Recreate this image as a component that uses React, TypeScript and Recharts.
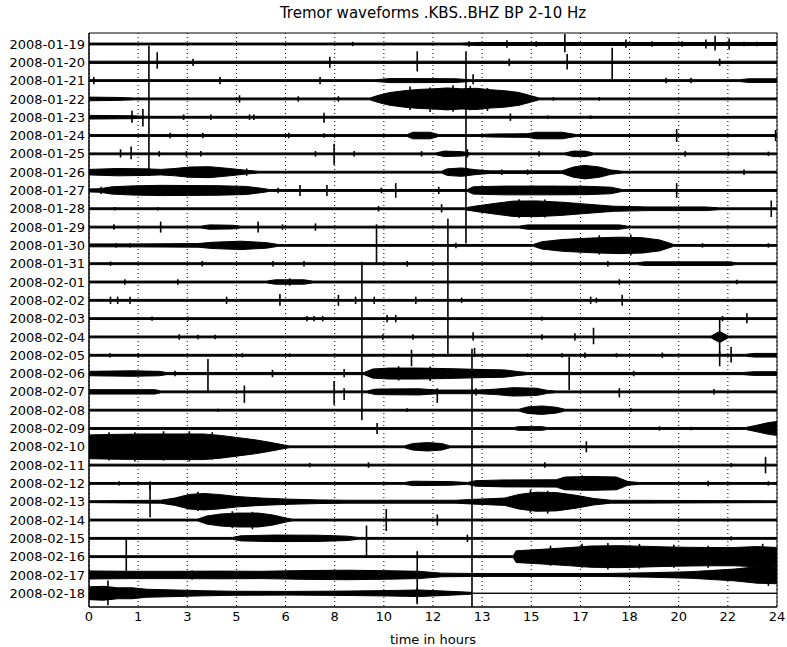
import { ComposedChart, Area, XAxis, YAxis, CartesianGrid, ReferenceLine, ReferenceArea, Label } from "recharts";

// one trace per day, top to bottom
const days = [
  "2008-01-19", "2008-01-20", "2008-01-21", "2008-01-22", "2008-01-23", "2008-01-24",
  "2008-01-25", "2008-01-26", "2008-01-27", "2008-01-28", "2008-01-29", "2008-01-30",
  "2008-01-31", "2008-02-01", "2008-02-02", "2008-02-03", "2008-02-04", "2008-02-05",
  "2008-02-06", "2008-02-07", "2008-02-08", "2008-02-09", "2008-02-10", "2008-02-11",
  "2008-02-12", "2008-02-13", "2008-02-14", "2008-02-15", "2008-02-16", "2008-02-17",
  "2008-02-18",
];

// hour ticks (15 evenly spaced) and their printed labels
const hourTicks = [0, 1.714, 3.429, 5.143, 6.857, 8.571, 10.286, 12, 13.714, 15.429, 17.143, 18.857, 20.571, 22.286, 24];
const hourLabels = ["0", "1", "3", "5", "6", "8", "10", "12", "13", "15", "17", "18", "20", "22", "24"];

// envelope of each trace: [hour, half amplitude] in units of trace spacing
const envelopes: [number, number][][] = [
  // 01-19
  [[0, 0.05], [13, 0.05], [13.5, 0.08], [24, 0.08]],
  // 01-20
  [[0, 0.06], [24, 0.06]],
  // 01-21
  [[0, 0.05], [10.0, 0.05], [10.5, 0.11], [11.5, 0.11], [12.8, 0.1], [13.3, 0.05], [22.7, 0.05], [23.0, 0.1], [24, 0.1]],
  // 01-22
  [[0, 0.1], [1.0, 0.08], [1.6, 0.05], [9.8, 0.05], [10.1, 0.2], [10.5, 0.35], [11.0, 0.45], [11.5, 0.52], [12.0, 0.55], [12.5, 0.6], [13.0, 0.55], [13.5, 0.58], [14.0, 0.5], [14.5, 0.45], [15.0, 0.35], [15.4, 0.18], [15.7, 0.05], [24, 0.05]],
  // 01-23
  [[0, 0.1], [1.5, 0.08], [2.0, 0.05], [24, 0.05]],
  // 01-24
  [[0, 0.05], [11.1, 0.05], [11.3, 0.18], [11.9, 0.18], [12.2, 0.05], [13.6, 0.05], [14.0, 0.08], [15.3, 0.1], [15.6, 0.18], [16.5, 0.18], [17.0, 0.05], [24, 0.05]],
  // 01-25
  [[0, 0.05], [12.1, 0.05], [12.4, 0.15], [13.0, 0.12], [13.3, 0.05], [16.6, 0.05], [16.9, 0.15], [17.3, 0.15], [17.6, 0.05], [24, 0.05]],
  // 01-26
  [[0, 0.15], [1.0, 0.2], [2.0, 0.18], [2.5, 0.15], [3.0, 0.2], [3.5, 0.28], [4.2, 0.3], [4.9, 0.2], [5.5, 0.1], [5.9, 0.05], [12.3, 0.05], [12.5, 0.18], [13.0, 0.23], [13.5, 0.13], [14.0, 0.07], [16.5, 0.07], [16.9, 0.28], [17.3, 0.37], [17.8, 0.28], [18.2, 0.12], [18.6, 0.05], [24, 0.05]],
  // 01-27
  [[0, 0.08], [0.4, 0.1], [0.8, 0.2], [1.5, 0.25], [2.5, 0.28], [3.5, 0.27], [4.5, 0.26], [5.5, 0.22], [6.0, 0.12], [6.3, 0.05], [13.2, 0.05], [13.4, 0.2], [14.5, 0.24], [16.0, 0.24], [17.3, 0.23], [18.2, 0.18], [18.6, 0.05], [24, 0.05]],
  // 01-28
  [[0, 0.05], [13.1, 0.05], [13.5, 0.15], [14.2, 0.3], [14.8, 0.42], [15.6, 0.43], [16.5, 0.36], [17.3, 0.26], [18.3, 0.14], [19.5, 0.1], [21.5, 0.1], [22.0, 0.05], [24, 0.05]],
  // 01-29
  [[0, 0.05], [3.9, 0.05], [4.2, 0.12], [5.0, 0.1], [5.3, 0.05], [15.0, 0.05], [15.3, 0.12], [18.5, 0.12], [18.8, 0.05], [24, 0.05]],
  // 01-30
  [[0, 0.08], [1.5, 0.08], [3.8, 0.1], [4.3, 0.17], [5.3, 0.23], [6.2, 0.15], [6.6, 0.05], [15.5, 0.05], [15.8, 0.2], [16.5, 0.32], [17.5, 0.4], [18.5, 0.45], [19.3, 0.42], [19.9, 0.3], [20.4, 0.05], [24, 0.05]],
  // 01-31
  [[0, 0.05], [19.1, 0.05], [19.4, 0.1], [22.3, 0.1], [22.6, 0.05], [24, 0.05]],
  // 02-01
  [[0, 0.05], [6.2, 0.05], [6.5, 0.12], [7.5, 0.12], [7.8, 0.05], [24, 0.05]],
  // 02-02
  [[0, 0.05], [24, 0.05]],
  // 02-03
  [[0, 0.05], [24, 0.05]],
  // 02-04
  [[0, 0.05], [21.7, 0.05], [22.0, 0.3], [22.3, 0.05], [24, 0.05]],
  // 02-05
  [[0, 0.05], [22.9, 0.05], [23.2, 0.1], [24, 0.1]],
  // 02-06
  [[0, 0.12], [1.5, 0.15], [2.45, 0.12], [2.7, 0.06], [9.6, 0.06], [9.9, 0.25], [10.5, 0.3], [11.5, 0.3], [12.5, 0.27], [13.5, 0.23], [14.5, 0.2], [15.0, 0.1], [15.3, 0.06], [22.8, 0.06], [23.2, 0.1], [24, 0.1]],
  // 02-07
  [[0, 0.12], [2.3, 0.12], [2.5, 0.05], [9.7, 0.05], [10.0, 0.15], [11.5, 0.17], [12.2, 0.1], [13.6, 0.1], [14.2, 0.15], [14.8, 0.23], [15.6, 0.2], [16.0, 0.08], [16.3, 0.05], [24, 0.05]],
  // 02-08
  [[0, 0.05], [15.0, 0.05], [15.3, 0.18], [15.8, 0.23], [16.3, 0.16], [16.6, 0.05], [24, 0.05]],
  // 02-09
  [[0, 0.05], [14.8, 0.05], [15.0, 0.1], [15.8, 0.1], [16.0, 0.05], [22.9, 0.05], [23.3, 0.18], [23.7, 0.32], [24, 0.38]],
  // 02-10
  [[0, 0.65], [1.0, 0.68], [2.0, 0.7], [3.0, 0.7], [4.0, 0.7], [4.6, 0.62], [5.2, 0.5], [5.8, 0.38], [6.3, 0.25], [6.8, 0.1], [7.0, 0.05], [11.0, 0.05], [11.3, 0.18], [11.8, 0.23], [12.3, 0.18], [12.6, 0.05], [24, 0.05]],
  // 02-11
  [[0, 0.05], [24, 0.05]],
  // 02-12
  [[0, 0.05], [11.0, 0.05], [11.3, 0.12], [12.6, 0.1], [13.2, 0.05], [13.5, 0.15], [14.5, 0.19], [16.3, 0.2], [16.6, 0.35], [17.5, 0.38], [18.4, 0.35], [18.8, 0.1], [19.2, 0.05], [24, 0.05]],
  // 02-13
  [[0, 0.05], [2.5, 0.08], [3.0, 0.2], [3.5, 0.4], [4.0, 0.45], [4.5, 0.4], [5.2, 0.28], [6.0, 0.2], [7.0, 0.14], [8.0, 0.1], [9.0, 0.08], [12.8, 0.08], [13.3, 0.12], [14.5, 0.2], [15.0, 0.4], [15.6, 0.52], [16.3, 0.5], [17.0, 0.35], [17.6, 0.18], [18.2, 0.08], [24, 0.05]],
  // 02-14
  [[0, 0.05], [3.8, 0.05], [4.1, 0.22], [4.6, 0.33], [5.2, 0.38], [5.9, 0.38], [6.4, 0.28], [6.9, 0.1], [7.1, 0.05], [24, 0.05]],
  // 02-15
  [[0, 0.05], [5.0, 0.05], [5.3, 0.14], [6.5, 0.18], [8.0, 0.17], [9.0, 0.12], [9.4, 0.05], [24, 0.05]],
  // 02-16
  [[0, 0.05], [14.8, 0.05], [14.9, 0.32], [15.8, 0.4], [16.8, 0.5], [17.5, 0.58], [18.5, 0.6], [19.5, 0.56], [20.5, 0.52], [21.5, 0.5], [22.5, 0.5], [23.3, 0.55], [24, 0.5]],
  // 02-17
  [[0, 0.22], [1.5, 0.2], [3.0, 0.2], [4.5, 0.21], [6.0, 0.2], [7.5, 0.24], [9.0, 0.26], [10.5, 0.23], [11.5, 0.2], [12.3, 0.1], [13.4, 0.08], [18.0, 0.08], [19.5, 0.12], [21.0, 0.18], [22.5, 0.32], [23.3, 0.45], [24, 0.48]],
  // 02-18, record stops at the 13.36 h event
  [[0, 0.35], [0.5, 0.38], [1.0, 0.3], [1.5, 0.3], [2.0, 0.22], [3.0, 0.18], [4.0, 0.14], [5.0, 0.11], [7.0, 0.1], [9.0, 0.12], [10.5, 0.15], [11.5, 0.18], [12.4, 0.12], [13.36, 0.05], [13.37, 0], [24, 0]],
];

// isolated spikes on each trace: [hour, extent up, extent down]
const spikes: [number, number, number][][] = [
  [[9.2, 0.12, 0.12], [13.26, 0.15, 0.15], [14.58, 0.2, 0.2], [15.6, 0.15, 0.15], [16.6, 0.55, 0.45], [18.73, 0.25, 0.2], [19.64, 0.15, 0.15], [20.69, 0.15, 0.15], [21.52, 0.25, 0.25], [21.84, 0.45, 0.35], [22.33, 0.3, 0.3], [22.85, 0.12, 0.12], [23.3, 0.12, 0.12]],
  [[2.09, 0.9, 6.2], [2.38, 0.55, 0.35], [3.63, 0.2, 0.2], [8.4, 0.3, 0.3], [11.45, 0.6, 0.5], [13.15, 0.6, 9.9], [14.66, 0.2, 0.2], [16.68, 0.45, 0.4], [18.25, 0.8, 1.0], [22.0, 0.2, 0.2]],
  [[0.17, 0.2, 0.2], [4.57, 0.2, 0.2], [8.06, 0.2, 0.2], [13.4, 0.35, 0.2], [20.13, 0.15, 0.15], [21.0, 0.15, 0.15]],
  [[5.25, 0.2, 0.2], [7.3, 0.15, 0.15], [8.7, 0.15, 0.15], [11.2, 0.68, 0.6], [11.9, 0.62, 0.72], [12.7, 0.75, 0.7], [13.3, 0.7, 0.62], [13.9, 0.6, 0.66], [16.2, 0.1, 0.1], [17.8, 0.1, 0.1]],
  [[1.5, 0.35, 0.3], [1.88, 0.45, 0.5], [3.3, 0.15, 0.15], [4.25, 0.15, 0.15], [5.6, 0.15, 0.15], [5.75, 0.15, 0.15], [8.2, 0.25, 0.3], [14.7, 0.2, 0.2], [16.0, 0.1, 0.1], [17.5, 0.1, 0.1]],
  [[2.83, 0.15, 0.15], [3.97, 0.15, 0.15], [6.97, 0.15, 0.15], [8.2, 0.12, 0.12], [20.5, 0.35, 0.35], [23.95, 0.3, 0.3]],
  [[1.1, 0.25, 0.2], [1.47, 0.4, 0.3], [2.45, 0.15, 0.15], [3.4, 0.15, 0.15], [3.9, 0.15, 0.15], [7.9, 0.15, 0.15], [8.55, 0.55, 0.6], [9.25, 0.15, 0.15], [11.6, 0.15, 0.15], [13.2, 0.25, 0.2], [15.7, 0.15, 0.15], [20.8, 0.15, 0.15], [22.3, 0.12, 0.12], [23.7, 0.12, 0.12]],
  [[5.5, 0.2, 0.2], [14.4, 0.15, 0.15], [15.3, 0.15, 0.15], [22.85, 0.15, 0.15]],
  [[0.42, 0.2, 0.2], [6.6, 0.15, 0.15], [7.36, 0.3, 0.3], [8.3, 0.3, 0.3], [10.2, 0.15, 0.15], [10.7, 0.4, 0.4], [12.2, 0.2, 0.2], [20.5, 0.4, 0.4]],
  [[0.9, 0.1, 0.1], [2.4, 0.1, 0.1], [10.1, 0.15, 0.15], [12.3, 0.25, 0.2], [15.0, 0.52, 0.5], [15.9, 0.5, 0.48], [23.8, 0.45, 0.45]],
  [[0.87, 0.15, 0.15], [2.5, 0.3, 0.3], [5.9, 0.3, 0.3], [6.75, 0.15, 0.15], [7.9, 0.2, 0.2], [10.03, 0.15, 2.0], [12.52, 0.45, 7.0]],
  [[0.95, 0.12, 0.12], [1.43, 0.12, 0.12], [12.8, 0.15, 0.15], [17.8, 0.55, 0.5], [18.9, 0.6, 0.55], [21.4, 0.12, 0.12], [23.7, 0.12, 0.12]],
  [[0.75, 0.12, 0.12], [3.95, 0.15, 0.15], [6.42, 0.15, 0.15], [7.5, 0.15, 0.15], [9.52, 0.1, 8.55], [11.1, 0.15, 0.15], [18.1, 0.15, 0.15], [22.4, 0.12, 0.12]],
  [[1.25, 0.15, 0.15], [3.1, 0.15, 0.15], [7.0, 0.2, 0.2], [18.5, 0.15, 0.15], [22.6, 0.12, 0.12]],
  [[0.75, 0.2, 0.2], [1.0, 0.2, 0.2], [1.43, 0.2, 0.2], [4.8, 0.2, 0.2], [6.66, 0.35, 0.3], [8.7, 0.3, 0.3], [9.3, 0.2, 0.2], [9.95, 0.2, 0.2], [11.4, 0.2, 0.2], [13.0, 0.15, 0.15], [17.5, 0.2, 0.2], [17.7, 0.15, 0.15], [18.6, 0.3, 0.3]],
  [[2.2, 0.12, 0.12], [3.45, 0.12, 0.12], [7.6, 0.15, 0.15], [7.85, 0.15, 0.15], [8.15, 0.15, 0.15], [10.4, 0.2, 0.2], [10.7, 0.2, 0.2], [15.8, 0.12, 0.12], [22.1, 0.15, 0.15], [22.95, 0.3, 0.25]],
  [[3.15, 0.15, 0.15], [3.8, 0.12, 0.12], [4.4, 0.12, 0.12], [10.25, 0.15, 0.15], [11.3, 0.15, 0.15], [13.4, 0.25, 0.2], [15.8, 0.15, 0.15], [16.95, 0.2, 0.2], [17.6, 0.5, 0.4], [22.0, 1.0, 1.0]],
  [[0.73, 0.12, 0.12], [1.72, 0.12, 0.12], [5.35, 0.12, 0.12], [7.0, 0.1, 0.1], [11.25, 0.3, 0.6], [13.45, 0.4, 0.1], [15.3, 0.1, 0.1], [16.5, 0.12, 0.12], [17.3, 0.15, 0.15], [18.4, 0.12, 0.12], [20.0, 0.15, 0.15], [22.0, 0.2, 0.6], [22.4, 0.45, 0.4]],
  [[3.0, 0.15, 0.15], [4.15, 0.8, 0.95], [6.4, 0.2, 0.2], [8.9, 0.25, 0.2], [10.8, 0.4, 0.38], [11.9, 0.38, 0.4], [13.36, 1.35, 12.75], [16.75, 0.9, 0.9], [19.0, 0.15, 0.15]],
  [[5.42, 0.35, 0.6], [8.55, 0.6, 0.7], [8.9, 0.2, 0.45], [12.15, 0.2, 0.6], [13.5, 0.2, 0.2], [18.5, 0.2, 0.3], [21.8, 0.15, 0.15]],
  [[4.5, 0.08, 0.08], [11.1, 0.1, 0.1], [18.9, 0.1, 0.1]],
  [[10.05, 0.3, 0.3], [19.9, 0.12, 0.12], [21.0, 0.1, 0.1]],
  [[0.7, 0.8, 0.75], [1.6, 0.8, 0.8], [2.6, 0.85, 0.75], [3.5, 0.85, 0.8], [4.3, 0.8, 0.7], [17.35, 0.3, 0.3]],
  [[7.7, 0.12, 0.12], [9.75, 0.15, 0.15], [15.9, 0.15, 0.15], [22.4, 0.12, 0.12], [23.6, 0.45, 0.45]],
  [[1.05, 0.12, 0.12], [2.13, 0.12, 0.35], [17.2, 0.45, 0.42], [21.6, 0.15, 0.15], [23.7, 0.12, 0.12]],
  [[2.13, 1.0, 0.85], [3.8, 0.55, 0.5], [15.4, 0.65, 0.6], [16.0, 0.6, 0.65]],
  [[5.0, 0.48, 0.45], [5.7, 0.45, 0.5], [10.37, 0.6, 0.6], [12.15, 0.3, 0.3]],
  [[9.68, 0.7, 1.0], [13.2, 0.2, 0.2], [22.4, 0.12, 0.12]],
  [[1.3, 1.0, 1.2], [16.1, 0.6, 0.5], [17.2, 0.7, 0.6], [18.1, 0.75, 0.7], [19.2, 0.7, 0.65], [20.4, 0.65, 0.6], [21.6, 0.6, 0.6], [23.5, 0.7, 0.7]],
  [[3.6, 0.25, 0.25], [5.0, 0.2, 0.2], [11.45, 1.3, 1.5], [23.7, 0.62, 0.6]],
  [[0.66, 0.7, 0.65], [11.45, 0.3, 0.6]],
];

const font = "DejaVu Sans";

export default function App() {
  return (
    <div style={{ position: "absolute", left: 0, top: 0, width: 787, height: 647, background: "#fff" }}>
      {/* title */}
      <div
        style={{
          position: "absolute", left: 89, top: 3, width: 688, textAlign: "center",
          fontFamily: font, fontSize: 15, lineHeight: "20px", color: "#000",
        }}
      >
        Tremor waveforms .KBS..BHZ BP 2-10 Hz
      </div>
      <ComposedChart width={787} height={647} margin={{ top: 33, right: 10, bottom: 0, left: 0 }}>
        <CartesianGrid horizontal={false} stroke="#000" strokeDasharray="1 3" />
        <XAxis
          type="number"
          dataKey="h"
          domain={[0, 24]}
          ticks={hourTicks}
          interval={0}
          tickFormatter={(v: number, i: number) => hourLabels[i]}
          height={40}
          tickSize={0}
          tickMargin={5}
          stroke="#000"
          tick={{ fill: "#000", fontSize: 13, fontFamily: font }}
        >
          <Label value="time in hours" position="insideBottom" offset={3} style={{ fill: "#000", fontSize: 13, fontFamily: font }} />
        </XAxis>
        <YAxis
          type="number"
          domain={[-0.6, 30.75]}
          reversed
          ticks={days.map((_, i) => i)}
          interval={0}
          tickFormatter={(v: number) => days[v]}
          width={89}
          tickSize={0}
          tickMargin={4}
          stroke="#000"
          tick={{ fill: "#000", fontSize: 13, fontFamily: font }}
        />
        {/* waveform envelopes, one band per day */}
        {envelopes.map((env, r) => (
          <Area
            key={days[r]}
            data={env.map(([h, a]) => ({ h, band: [r - a, r + a] }))}
            dataKey="band"
            type="linear"
            stroke="#000"
            strokeWidth={1}
            fill="#000"
            fillOpacity={1}
            dot={false}
            activeDot={false}
            isAnimationActive={false}
          />
        ))}
        {/* spikes */}
        {spikes.map((list, r) =>
          list.map(([h, up, down], k) => (
            <ReferenceLine
              key={`${days[r]}-${k}`}
              segment={[{ x: h, y: r - up }, { x: h, y: r + down }]}
              stroke="#000"
              strokeWidth={1.6}
            />
          ))
        )}
        {/* plot frame */}
        <ReferenceArea x1={0} x2={24} y1={-0.6} y2={30.75} fill="none" stroke="#000" strokeWidth={1} />
      </ComposedChart>
    </div>
  );
}
